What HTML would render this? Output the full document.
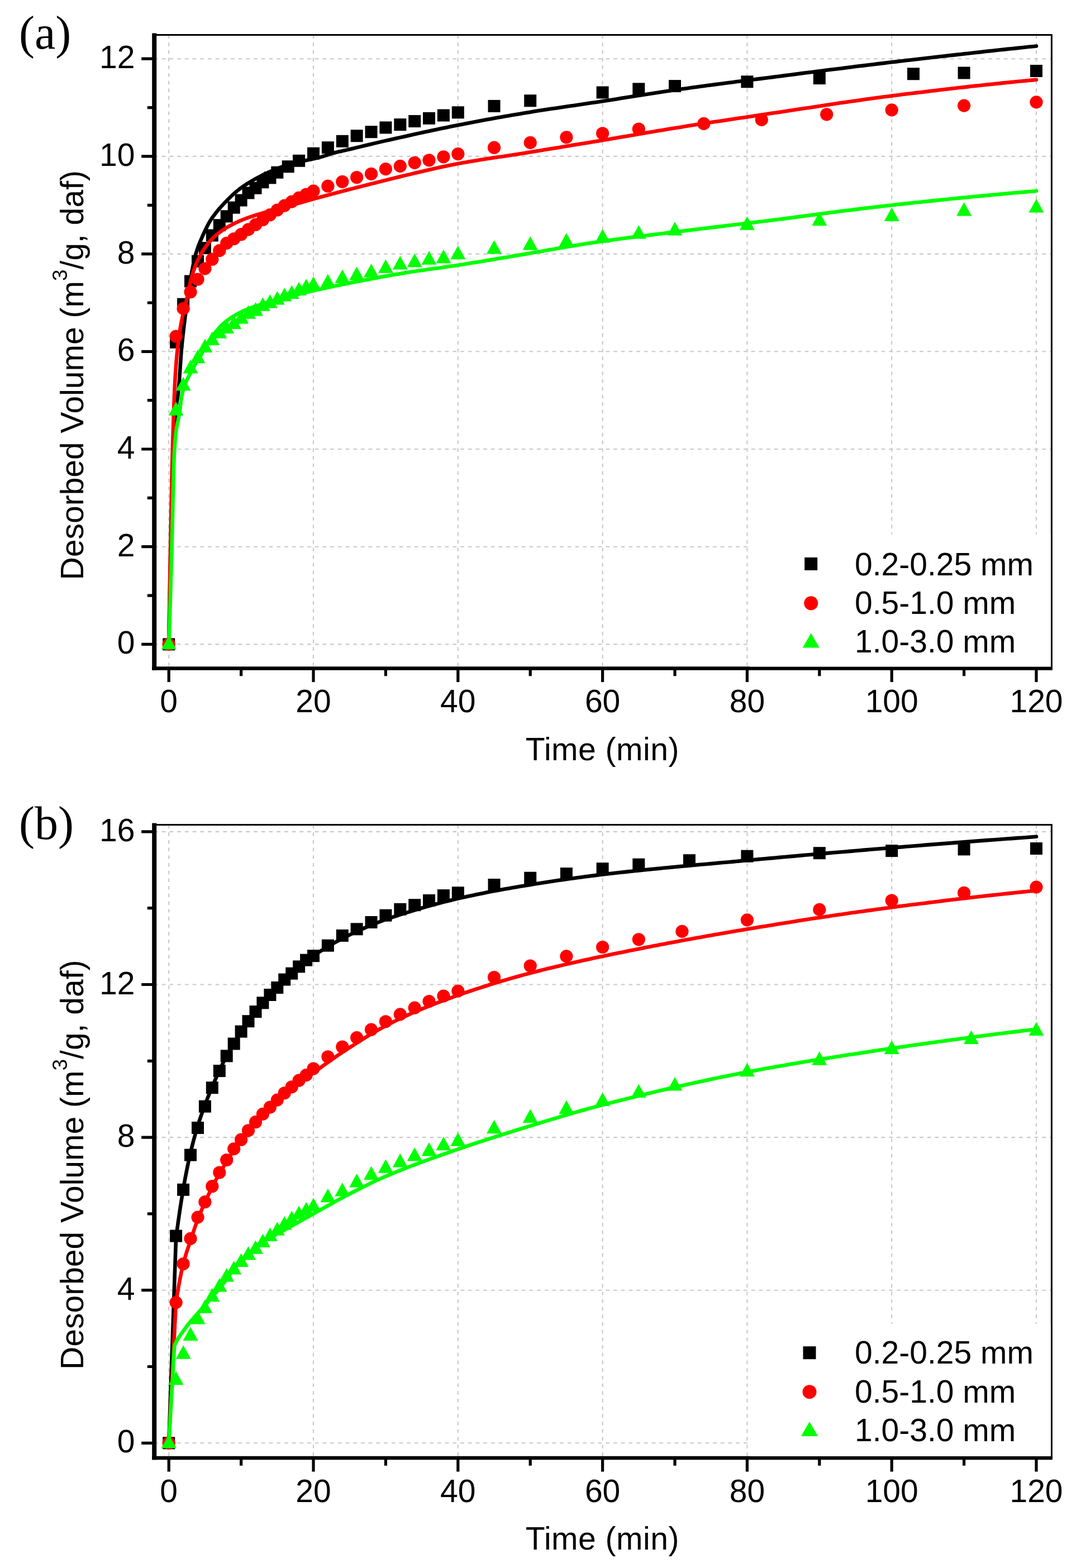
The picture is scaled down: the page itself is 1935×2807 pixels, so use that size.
<!DOCTYPE html>
<html><head><meta charset="utf-8"><title>Desorbed volume vs time</title>
<style>html,body{margin:0;padding:0;background:#fff;} body{width:1935px;height:2807px;overflow:hidden;} svg{display:block;}</style>
</head><body>
<svg width="1935" height="2807" viewBox="0 0 1935 2807">
<rect width="1935" height="2807" fill="#fff"/>
<path d="M302.2,62.5 V1196.5 M561.0,62.5 V1196.5 M819.8,62.5 V1196.5 M1078.6,62.5 V1196.5 M1337.4,62.5 V1196.5 M1596.2,62.5 V1196.5 M1855.0,62.5 V1196.5 M276.2 1153.4 H1882.4 M276.2 978.7 H1882.4 M276.2 804.0 H1882.4 M276.2 629.3 H1882.4 M276.2 454.6 H1882.4 M276.2 279.9 H1882.4 M276.2 105.2 H1882.4" stroke="#c8c8c8" stroke-width="2.1" stroke-dasharray="6.5 7.2" fill="none"/>
<path d="M302.2,1153.4 L302.8,1117.5 L303.5,1082.9 L304.1,1049.7 L304.8,1018.2 L305.4,988.6 L306.1,961.2 L306.7,935.1 L307.4,909.3 L308.0,884.4 L308.7,860.6 L309.3,838.6 L310.0,818.6 L310.6,801.1 L311.3,786.5 L311.9,774.2 L312.6,763.0 L313.2,753.0 L313.8,744.2 L314.5,736.4 L315.1,729.8 L315.8,724.3 L316.4,719.8 L317.1,715.8 L317.7,712.1 L318.4,708.1 L319.0,703.4 L319.7,697.5 L320.3,690.1 L321.0,681.5 L321.6,671.9 L322.3,662.0 L322.9,652.0 L323.6,642.5 L324.2,633.9 L324.8,626.5 L325.5,619.6 L326.1,613.0 L326.8,606.7 L327.4,600.7 L328.1,594.9 L328.7,589.2 L331.2,568.6 L333.7,549.9 L336.2,532.5 L338.7,515.5 L341.2,499.1 L343.7,484.7 L346.2,472.4 L348.7,461.5 L351.2,452.1 L353.7,444.4 L356.2,437.6 L358.7,431.5 L361.2,425.9 L363.7,420.2 L366.2,414.7 L368.7,409.5 L371.2,404.5 L373.6,399.8 L376.1,395.6 L378.6,391.7 L381.1,388.1 L383.6,384.7 L386.1,381.5 L388.6,378.4 L391.1,375.4 L393.6,372.4 L396.1,369.6 L398.6,366.9 L401.1,364.2 L403.6,361.6 L406.1,359.1 L408.6,356.5 L411.1,354.0 L413.6,351.6 L416.1,349.2 L418.6,346.9 L421.1,344.7 L423.6,342.5 L426.1,340.5 L428.5,338.6 L431.0,336.7 L433.5,334.9 L436.0,333.2 L438.5,331.5 L441.0,329.9 L443.5,328.3 L446.0,326.8 L448.5,325.3 L451.0,323.8 L453.5,322.3 L456.0,320.9 L458.5,319.5 L461.0,318.2 L463.5,316.9 L466.0,315.6 L468.5,314.3 L471.0,313.0 L473.5,311.8 L476.0,310.6 L478.5,309.5 L481.0,308.3 L483.5,307.2 L485.9,306.1 L488.4,305.0 L490.9,304.0 L493.4,303.0 L495.9,302.0 L498.4,301.0 L500.9,300.1 L503.4,299.2 L505.9,298.3 L508.4,297.4 L510.9,296.6 L513.4,295.7 L515.9,295.0 L518.4,294.2 L520.9,293.5 L523.4,292.8 L525.9,292.2 L528.4,291.6 L530.9,291.0 L533.4,290.4 L535.9,289.9 L538.4,289.3 L540.9,288.7 L543.3,288.2 L545.8,287.6 L548.3,287.0 L550.8,286.5 L553.3,285.9 L555.8,285.4 L558.3,284.9 L560.8,284.3 L563.3,283.8 L565.8,283.2 L568.3,282.6 L570.8,282.0 L573.3,281.4 L575.8,280.7 L578.3,279.9 L580.8,279.1 L583.3,278.3 L585.8,277.5 L588.3,276.7 L590.8,275.9 L593.3,275.1 L595.8,274.3 L598.2,273.7 L600.7,273.0 L603.2,272.4 L605.7,271.8 L608.2,271.2 L610.7,270.7 L613.2,270.1 L615.7,269.5 L618.2,269.0 L620.7,268.4 L623.2,267.8 L625.7,267.2 L632.2,265.7 L638.6,264.1 L645.1,262.6 L651.6,261.0 L658.0,259.5 L664.5,258.0 L671.0,256.4 L677.5,254.9 L683.9,253.4 L690.4,251.9 L696.9,250.5 L703.3,249.0 L709.8,247.6 L716.3,246.1 L722.8,244.7 L729.2,243.2 L735.7,241.8 L742.2,240.3 L748.6,238.9 L755.1,237.5 L761.6,236.1 L768.0,234.7 L774.5,233.3 L781.0,231.9 L787.5,230.6 L793.9,229.2 L800.4,227.9 L806.9,226.6 L813.3,225.3 L819.8,224.0 L826.3,222.7 L832.7,221.5 L839.2,220.2 L845.7,219.0 L852.1,217.8 L858.6,216.5 L865.1,215.3 L871.6,214.1 L878.0,213.0 L884.5,211.8 L891.0,210.6 L897.4,209.5 L903.9,208.3 L910.4,207.2 L916.8,206.1 L923.3,205.0 L929.8,203.9 L936.3,202.8 L942.7,201.7 L949.2,200.7 L955.7,199.6 L962.1,198.6 L968.6,197.6 L975.1,196.6 L981.5,195.6 L988.0,194.6 L994.5,193.7 L1001.0,192.7 L1007.4,191.8 L1013.9,190.8 L1020.4,189.8 L1026.8,188.9 L1033.3,188.0 L1039.8,187.0 L1046.2,186.0 L1052.7,185.1 L1059.2,184.1 L1065.7,183.2 L1072.1,182.2 L1078.6,181.2 L1085.1,180.2 L1091.5,179.2 L1098.0,178.2 L1104.5,177.2 L1111.0,176.1 L1117.4,175.1 L1123.9,174.1 L1130.4,173.0 L1136.8,172.0 L1143.3,171.0 L1149.8,170.0 L1156.2,168.9 L1162.7,167.9 L1169.2,166.9 L1175.6,165.9 L1182.1,164.9 L1188.6,164.0 L1195.1,163.0 L1201.5,162.0 L1208.0,161.1 L1214.5,160.2 L1220.9,159.3 L1227.4,158.4 L1233.9,157.5 L1240.3,156.6 L1246.8,155.7 L1253.3,154.8 L1259.8,154.0 L1266.2,153.1 L1272.7,152.2 L1279.2,151.4 L1285.6,150.5 L1292.1,149.7 L1298.6,148.8 L1305.0,148.0 L1311.5,147.2 L1318.0,146.3 L1324.5,145.5 L1330.9,144.7 L1337.4,143.9 L1343.9,143.0 L1350.3,142.2 L1356.8,141.4 L1363.3,140.6 L1369.8,139.7 L1376.2,138.9 L1382.7,138.1 L1389.2,137.2 L1395.6,136.4 L1402.1,135.6 L1408.6,134.7 L1415.0,133.9 L1421.5,133.1 L1428.0,132.2 L1434.5,131.4 L1440.9,130.6 L1447.4,129.8 L1453.9,128.9 L1460.3,128.1 L1466.8,127.3 L1473.3,126.5 L1479.7,125.6 L1486.2,124.8 L1492.7,124.0 L1499.2,123.2 L1505.6,122.4 L1512.1,121.6 L1518.6,120.8 L1525.0,120.0 L1531.5,119.1 L1538.0,118.3 L1544.4,117.6 L1550.9,116.8 L1557.4,116.0 L1563.8,115.2 L1570.3,114.4 L1576.8,113.6 L1583.3,112.9 L1589.7,112.1 L1596.2,111.3 L1602.7,110.6 L1609.1,109.8 L1615.6,109.0 L1622.1,108.3 L1628.5,107.5 L1635.0,106.8 L1641.5,106.0 L1648.0,105.3 L1654.4,104.5 L1660.9,103.8 L1667.4,103.0 L1673.8,102.3 L1680.3,101.5 L1686.8,100.8 L1693.2,100.1 L1699.7,99.3 L1706.2,98.6 L1712.7,97.9 L1719.1,97.2 L1725.6,96.4 L1732.1,95.7 L1738.5,95.0 L1745.0,94.3 L1751.5,93.6 L1758.0,92.9 L1764.4,92.1 L1770.9,91.4 L1777.4,90.7 L1783.8,90.0 L1790.3,89.3 L1796.8,88.6 L1803.2,87.9 L1809.7,87.3 L1816.2,86.6 L1822.7,85.9 L1829.1,85.2 L1835.6,84.5 L1842.1,83.8 L1848.5,83.2 L1855.0,82.5" stroke="#000" stroke-width="6.6" fill="none" stroke-linejoin="round" stroke-linecap="round"/>
<rect x="291.2" y="1142.4" width="22" height="22" fill="#000"/><rect x="304.1" y="601.7" width="22" height="22" fill="#000"/><rect x="317.1" y="533.6" width="22" height="22" fill="#000"/><rect x="330.0" y="492.5" width="22" height="22" fill="#000"/><rect x="343.0" y="456.7" width="22" height="22" fill="#000"/><rect x="355.9" y="433.1" width="22" height="22" fill="#000"/><rect x="368.8" y="410.4" width="22" height="22" fill="#000"/><rect x="381.8" y="392.1" width="22" height="22" fill="#000"/><rect x="394.7" y="376.3" width="22" height="22" fill="#000"/><rect x="407.7" y="360.6" width="22" height="22" fill="#000"/><rect x="420.6" y="347.5" width="22" height="22" fill="#000"/><rect x="433.5" y="334.4" width="22" height="22" fill="#000"/><rect x="446.5" y="325.7" width="22" height="22" fill="#000"/><rect x="459.4" y="315.2" width="22" height="22" fill="#000"/><rect x="472.4" y="307.3" width="22" height="22" fill="#000"/><rect x="485.3" y="297.7" width="22" height="22" fill="#000"/><rect x="504.7" y="287.2" width="22" height="22" fill="#000"/><rect x="524.1" y="276.8" width="22" height="22" fill="#000"/><rect x="550.0" y="263.7" width="22" height="22" fill="#000"/><rect x="575.9" y="253.2" width="22" height="22" fill="#000"/><rect x="601.8" y="241.8" width="22" height="22" fill="#000"/><rect x="627.6" y="232.2" width="22" height="22" fill="#000"/><rect x="653.5" y="225.2" width="22" height="22" fill="#000"/><rect x="679.4" y="217.4" width="22" height="22" fill="#000"/><rect x="705.3" y="212.1" width="22" height="22" fill="#000"/><rect x="731.2" y="206.0" width="22" height="22" fill="#000"/><rect x="757.0" y="200.8" width="22" height="22" fill="#000"/><rect x="782.9" y="195.5" width="22" height="22" fill="#000"/><rect x="808.8" y="190.3" width="22" height="22" fill="#000"/><rect x="873.5" y="178.9" width="22" height="22" fill="#000"/><rect x="938.2" y="169.3" width="22" height="22" fill="#000"/><rect x="1067.6" y="154.5" width="22" height="22" fill="#000"/><rect x="1132.3" y="148.4" width="22" height="22" fill="#000"/><rect x="1197.0" y="143.1" width="22" height="22" fill="#000"/><rect x="1326.4" y="135.3" width="22" height="22" fill="#000"/><rect x="1455.8" y="129.1" width="22" height="22" fill="#000"/><rect x="1624.0" y="121.3" width="22" height="22" fill="#000"/><rect x="1714.6" y="119.5" width="22" height="22" fill="#000"/><rect x="1844.0" y="116.0" width="22" height="22" fill="#000"/>
<path d="M302.2,1153.4 L302.8,1111.5 L303.5,1071.2 L304.1,1032.6 L304.8,995.9 L305.4,961.2 L306.1,927.8 L306.7,895.1 L307.4,863.9 L308.0,835.2 L308.7,809.7 L309.3,787.4 L310.0,766.4 L310.6,746.5 L311.3,727.9 L311.9,710.9 L312.6,695.8 L313.2,682.7 L313.8,671.8 L314.5,662.3 L315.1,653.5 L315.8,645.4 L316.4,637.9 L317.1,631.0 L317.7,624.6 L318.4,618.7 L319.0,613.1 L319.7,608.0 L320.3,603.1 L321.0,598.5 L321.6,594.1 L322.3,590.0 L322.9,586.2 L323.6,582.5 L324.2,579.0 L324.8,575.6 L325.5,572.4 L326.1,569.3 L326.8,566.2 L327.4,563.2 L328.1,560.3 L328.7,557.4 L331.2,547.7 L333.7,538.3 L336.2,527.5 L338.7,515.3 L341.2,503.4 L343.7,493.6 L346.2,485.7 L348.7,478.7 L351.2,472.3 L353.7,466.6 L356.2,461.5 L358.7,456.7 L361.2,452.3 L363.7,448.3 L366.2,444.5 L368.7,440.9 L371.2,437.5 L373.6,434.4 L376.1,431.5 L378.6,428.8 L381.1,426.2 L383.6,423.9 L386.1,421.6 L388.6,419.5 L391.1,417.5 L393.6,415.5 L396.1,413.7 L398.6,411.9 L401.1,410.3 L403.6,408.7 L406.1,407.2 L408.6,405.8 L411.1,404.4 L413.6,403.1 L416.1,401.8 L418.6,400.5 L421.1,399.3 L423.6,398.1 L426.1,396.9 L428.5,395.8 L431.0,394.8 L433.5,393.7 L436.0,392.7 L438.5,391.8 L441.0,390.8 L443.5,389.9 L446.0,389.0 L448.5,388.1 L451.0,387.3 L453.5,386.5 L456.0,385.7 L458.5,384.9 L461.0,384.1 L463.5,383.3 L466.0,382.6 L468.5,381.8 L471.0,381.1 L473.5,380.3 L476.0,379.6 L478.5,378.9 L481.0,378.2 L483.5,377.6 L485.9,376.9 L488.4,376.3 L490.9,375.6 L493.4,375.0 L495.9,374.4 L498.4,373.7 L500.9,373.1 L503.4,372.4 L505.9,371.8 L508.4,371.1 L510.9,370.5 L513.4,369.8 L515.9,369.1 L518.4,368.4 L520.9,367.7 L523.4,367.0 L525.9,366.3 L528.4,365.6 L530.9,364.9 L533.4,364.1 L535.9,363.4 L538.4,362.7 L540.9,362.0 L543.3,361.3 L545.8,360.5 L548.3,359.8 L550.8,359.1 L553.3,358.4 L555.8,357.7 L558.3,357.0 L560.8,356.3 L563.3,355.6 L565.8,354.9 L568.3,354.2 L570.8,353.6 L573.3,352.9 L575.8,352.2 L578.3,351.5 L580.8,350.9 L583.3,350.2 L585.8,349.5 L588.3,348.9 L590.8,348.2 L593.3,347.5 L595.8,346.9 L598.2,346.2 L600.7,345.6 L603.2,344.9 L605.7,344.2 L608.2,343.6 L610.7,342.9 L613.2,342.3 L615.7,341.6 L618.2,341.0 L620.7,340.3 L623.2,339.7 L625.7,339.0 L632.2,337.4 L638.6,335.7 L645.1,334.1 L651.6,332.4 L658.0,330.8 L664.5,329.1 L671.0,327.5 L677.5,325.9 L683.9,324.2 L690.4,322.6 L696.9,321.0 L703.3,319.4 L709.8,317.8 L716.3,316.2 L722.8,314.6 L729.2,313.1 L735.7,311.6 L742.2,310.0 L748.6,308.5 L755.1,307.0 L761.6,305.5 L768.0,304.0 L774.5,302.5 L781.0,301.0 L787.5,299.6 L793.9,298.2 L800.4,296.8 L806.9,295.5 L813.3,294.2 L819.8,293.0 L826.3,291.8 L832.7,290.7 L839.2,289.5 L845.7,288.4 L852.1,287.4 L858.6,286.3 L865.1,285.3 L871.6,284.3 L878.0,283.3 L884.5,282.3 L891.0,281.3 L897.4,280.4 L903.9,279.4 L910.4,278.4 L916.8,277.4 L923.3,276.4 L929.8,275.4 L936.3,274.4 L942.7,273.4 L949.2,272.3 L955.7,271.3 L962.1,270.2 L968.6,269.2 L975.1,268.1 L981.5,267.1 L988.0,266.0 L994.5,264.9 L1001.0,263.9 L1007.4,262.8 L1013.9,261.8 L1020.4,260.7 L1026.8,259.6 L1033.3,258.6 L1039.8,257.5 L1046.2,256.4 L1052.7,255.4 L1059.2,254.3 L1065.7,253.2 L1072.1,252.2 L1078.6,251.1 L1085.1,250.0 L1091.5,248.9 L1098.0,247.8 L1104.5,246.7 L1111.0,245.6 L1117.4,244.5 L1123.9,243.4 L1130.4,242.3 L1136.8,241.2 L1143.3,240.1 L1149.8,239.0 L1156.2,237.8 L1162.7,236.7 L1169.2,235.7 L1175.6,234.6 L1182.1,233.5 L1188.6,232.4 L1195.1,231.3 L1201.5,230.3 L1208.0,229.2 L1214.5,228.2 L1220.9,227.2 L1227.4,226.1 L1233.9,225.1 L1240.3,224.1 L1246.8,223.1 L1253.3,222.1 L1259.8,221.1 L1266.2,220.1 L1272.7,219.1 L1279.2,218.1 L1285.6,217.2 L1292.1,216.2 L1298.6,215.2 L1305.0,214.2 L1311.5,213.3 L1318.0,212.3 L1324.5,211.3 L1330.9,210.4 L1337.4,209.4 L1343.9,208.4 L1350.3,207.5 L1356.8,206.5 L1363.3,205.5 L1369.8,204.6 L1376.2,203.6 L1382.7,202.6 L1389.2,201.7 L1395.6,200.7 L1402.1,199.7 L1408.6,198.8 L1415.0,197.8 L1421.5,196.8 L1428.0,195.8 L1434.5,194.8 L1440.9,193.8 L1447.4,192.9 L1453.9,191.9 L1460.3,190.9 L1466.8,189.9 L1473.3,188.9 L1479.7,188.0 L1486.2,187.0 L1492.7,186.0 L1499.2,185.1 L1505.6,184.1 L1512.1,183.2 L1518.6,182.2 L1525.0,181.3 L1531.5,180.4 L1538.0,179.4 L1544.4,178.5 L1550.9,177.6 L1557.4,176.7 L1563.8,175.8 L1570.3,175.0 L1576.8,174.1 L1583.3,173.3 L1589.7,172.4 L1596.2,171.6 L1602.7,170.8 L1609.1,170.0 L1615.6,169.1 L1622.1,168.3 L1628.5,167.5 L1635.0,166.7 L1641.5,165.9 L1648.0,165.2 L1654.4,164.4 L1660.9,163.6 L1667.4,162.8 L1673.8,162.1 L1680.3,161.3 L1686.8,160.5 L1693.2,159.8 L1699.7,159.0 L1706.2,158.3 L1712.7,157.5 L1719.1,156.8 L1725.6,156.1 L1732.1,155.4 L1738.5,154.6 L1745.0,153.9 L1751.5,153.2 L1758.0,152.5 L1764.4,151.8 L1770.9,151.1 L1777.4,150.5 L1783.8,149.8 L1790.3,149.1 L1796.8,148.4 L1803.2,147.8 L1809.7,147.1 L1816.2,146.5 L1822.7,145.8 L1829.1,145.2 L1835.6,144.6 L1842.1,144.0 L1848.5,143.4 L1855.0,142.8" stroke="#ff0000" stroke-width="6.6" fill="none" stroke-linejoin="round" stroke-linecap="round"/>
<circle cx="302.2" cy="1153.4" r="11.6" fill="#ff0000"/><circle cx="315.1" cy="602.2" r="11.6" fill="#ff0000"/><circle cx="328.1" cy="552.4" r="11.6" fill="#ff0000"/><circle cx="341.0" cy="522.7" r="11.6" fill="#ff0000"/><circle cx="354.0" cy="500.0" r="11.6" fill="#ff0000"/><circle cx="366.9" cy="480.8" r="11.6" fill="#ff0000"/><circle cx="379.8" cy="464.2" r="11.6" fill="#ff0000"/><circle cx="392.8" cy="448.5" r="11.6" fill="#ff0000"/><circle cx="405.7" cy="435.4" r="11.6" fill="#ff0000"/><circle cx="418.7" cy="427.5" r="11.6" fill="#ff0000"/><circle cx="431.6" cy="419.7" r="11.6" fill="#ff0000"/><circle cx="444.5" cy="410.9" r="11.6" fill="#ff0000"/><circle cx="457.5" cy="402.2" r="11.6" fill="#ff0000"/><circle cx="470.4" cy="393.5" r="11.6" fill="#ff0000"/><circle cx="483.4" cy="384.7" r="11.6" fill="#ff0000"/><circle cx="496.3" cy="376.0" r="11.6" fill="#ff0000"/><circle cx="509.2" cy="368.1" r="11.6" fill="#ff0000"/><circle cx="522.2" cy="361.1" r="11.6" fill="#ff0000"/><circle cx="535.1" cy="354.1" r="11.6" fill="#ff0000"/><circle cx="548.1" cy="348.0" r="11.6" fill="#ff0000"/><circle cx="561.0" cy="341.9" r="11.6" fill="#ff0000"/><circle cx="586.9" cy="333.2" r="11.6" fill="#ff0000"/><circle cx="612.8" cy="325.3" r="11.6" fill="#ff0000"/><circle cx="638.6" cy="317.5" r="11.6" fill="#ff0000"/><circle cx="664.5" cy="311.3" r="11.6" fill="#ff0000"/><circle cx="690.4" cy="302.6" r="11.6" fill="#ff0000"/><circle cx="716.3" cy="297.4" r="11.6" fill="#ff0000"/><circle cx="742.2" cy="291.3" r="11.6" fill="#ff0000"/><circle cx="768.0" cy="286.9" r="11.6" fill="#ff0000"/><circle cx="793.9" cy="280.8" r="11.6" fill="#ff0000"/><circle cx="819.8" cy="275.5" r="11.6" fill="#ff0000"/><circle cx="884.5" cy="264.2" r="11.6" fill="#ff0000"/><circle cx="949.2" cy="255.4" r="11.6" fill="#ff0000"/><circle cx="1013.9" cy="245.8" r="11.6" fill="#ff0000"/><circle cx="1078.6" cy="238.8" r="11.6" fill="#ff0000"/><circle cx="1143.3" cy="231.0" r="11.6" fill="#ff0000"/><circle cx="1259.8" cy="221.4" r="11.6" fill="#ff0000"/><circle cx="1363.3" cy="214.4" r="11.6" fill="#ff0000"/><circle cx="1479.7" cy="204.8" r="11.6" fill="#ff0000"/><circle cx="1596.2" cy="196.9" r="11.6" fill="#ff0000"/><circle cx="1725.6" cy="189.1" r="11.6" fill="#ff0000"/><circle cx="1855.0" cy="182.9" r="11.6" fill="#ff0000"/>
<path d="M302.2,1153.4 L302.8,1134.7 L303.5,1115.4 L304.1,1095.4 L304.8,1074.9 L305.4,1053.9 L306.1,1032.3 L306.7,1010.3 L307.4,987.8 L308.0,964.1 L308.7,936.6 L309.3,907.2 L310.0,877.9 L310.6,850.9 L311.3,828.5 L311.9,812.7 L312.6,802.0 L313.2,792.9 L313.8,785.3 L314.5,778.9 L315.1,773.4 L315.8,768.7 L316.4,764.6 L317.1,760.9 L317.7,757.6 L318.4,754.5 L319.0,751.5 L319.7,748.3 L320.3,744.9 L321.0,741.1 L321.6,736.7 L322.3,731.7 L322.9,726.5 L323.6,721.2 L324.2,716.2 L324.8,711.7 L325.5,707.9 L326.1,705.1 L326.8,702.6 L327.4,700.2 L328.1,698.0 L328.7,695.8 L331.2,688.4 L333.7,682.2 L336.2,676.8 L338.7,671.9 L341.2,667.2 L343.7,662.3 L346.2,657.7 L348.7,653.6 L351.2,649.6 L353.7,645.7 L356.2,641.7 L358.7,637.5 L361.2,633.1 L363.7,628.5 L366.2,624.1 L368.7,619.8 L371.2,615.7 L373.6,611.6 L376.1,607.8 L378.6,604.3 L381.1,600.9 L383.6,597.6 L386.1,594.3 L388.6,591.2 L391.1,588.2 L393.6,585.4 L396.1,582.7 L398.6,580.3 L401.1,578.2 L403.6,576.2 L406.1,574.2 L408.6,572.4 L411.1,570.6 L413.6,568.9 L416.1,567.3 L418.6,565.7 L421.1,564.3 L423.6,562.8 L426.1,561.5 L428.5,560.2 L431.0,558.9 L433.5,557.7 L436.0,556.5 L438.5,555.4 L441.0,554.4 L443.5,553.3 L446.0,552.3 L448.5,551.3 L451.0,550.4 L453.5,549.5 L456.0,548.6 L458.5,547.7 L461.0,546.9 L463.5,546.1 L466.0,545.3 L468.5,544.5 L471.0,543.7 L473.5,542.9 L476.0,542.1 L478.5,541.4 L481.0,540.6 L483.5,539.9 L485.9,539.2 L488.4,538.5 L490.9,537.8 L493.4,537.1 L495.9,536.4 L498.4,535.7 L500.9,535.1 L503.4,534.4 L505.9,533.8 L508.4,533.2 L510.9,532.5 L513.4,531.9 L515.9,531.3 L518.4,530.7 L520.9,530.0 L523.4,529.4 L525.9,528.8 L528.4,528.2 L530.9,527.6 L533.4,526.9 L535.9,526.3 L538.4,525.7 L540.9,525.1 L543.3,524.5 L545.8,523.9 L548.3,523.3 L550.8,522.7 L553.3,522.2 L555.8,521.6 L558.3,521.0 L560.8,520.4 L563.3,519.9 L565.8,519.3 L568.3,518.8 L570.8,518.2 L573.3,517.7 L575.8,517.1 L578.3,516.6 L580.8,516.0 L583.3,515.5 L585.8,515.0 L588.3,514.4 L590.8,513.9 L593.3,513.4 L595.8,512.8 L598.2,512.3 L600.7,511.8 L603.2,511.3 L605.7,510.8 L608.2,510.2 L610.7,509.7 L613.2,509.2 L615.7,508.7 L618.2,508.2 L620.7,507.7 L623.2,507.2 L625.7,506.7 L632.2,505.4 L638.6,504.1 L645.1,502.9 L651.6,501.6 L658.0,500.4 L664.5,499.2 L671.0,498.0 L677.5,496.8 L683.9,495.6 L690.4,494.4 L696.9,493.3 L703.3,492.1 L709.8,491.0 L716.3,489.9 L722.8,488.8 L729.2,487.8 L735.7,486.8 L742.2,485.8 L748.6,484.8 L755.1,483.9 L761.6,483.0 L768.0,482.1 L774.5,481.2 L781.0,480.3 L787.5,479.4 L793.9,478.5 L800.4,477.6 L806.9,476.6 L813.3,475.7 L819.8,474.7 L826.3,473.7 L832.7,472.7 L839.2,471.6 L845.7,470.6 L852.1,469.5 L858.6,468.5 L865.1,467.4 L871.6,466.3 L878.0,465.2 L884.5,464.2 L891.0,463.1 L897.4,462.0 L903.9,460.9 L910.4,459.9 L916.8,458.8 L923.3,457.7 L929.8,456.6 L936.3,455.5 L942.7,454.4 L949.2,453.2 L955.7,452.1 L962.1,451.0 L968.6,449.9 L975.1,448.7 L981.5,447.6 L988.0,446.5 L994.5,445.4 L1001.0,444.3 L1007.4,443.2 L1013.9,442.1 L1020.4,441.0 L1026.8,439.9 L1033.3,438.9 L1039.8,437.8 L1046.2,436.8 L1052.7,435.8 L1059.2,434.8 L1065.7,433.8 L1072.1,432.8 L1078.6,431.9 L1085.1,431.0 L1091.5,430.1 L1098.0,429.2 L1104.5,428.3 L1111.0,427.4 L1117.4,426.6 L1123.9,425.7 L1130.4,424.9 L1136.8,424.1 L1143.3,423.3 L1149.8,422.5 L1156.2,421.7 L1162.7,420.9 L1169.2,420.1 L1175.6,419.3 L1182.1,418.5 L1188.6,417.7 L1195.1,416.9 L1201.5,416.1 L1208.0,415.3 L1214.5,414.5 L1220.9,413.7 L1227.4,412.9 L1233.9,412.1 L1240.3,411.3 L1246.8,410.5 L1253.3,409.7 L1259.8,409.0 L1266.2,408.2 L1272.7,407.4 L1279.2,406.6 L1285.6,405.9 L1292.1,405.1 L1298.6,404.3 L1305.0,403.5 L1311.5,402.8 L1318.0,402.0 L1324.5,401.2 L1330.9,400.4 L1337.4,399.6 L1343.9,398.8 L1350.3,398.1 L1356.8,397.3 L1363.3,396.5 L1369.8,395.7 L1376.2,394.9 L1382.7,394.0 L1389.2,393.2 L1395.6,392.4 L1402.1,391.6 L1408.6,390.7 L1415.0,389.9 L1421.5,389.1 L1428.0,388.2 L1434.5,387.4 L1440.9,386.5 L1447.4,385.7 L1453.9,384.8 L1460.3,384.0 L1466.8,383.1 L1473.3,382.3 L1479.7,381.5 L1486.2,380.6 L1492.7,379.8 L1499.2,379.0 L1505.6,378.1 L1512.1,377.3 L1518.6,376.5 L1525.0,375.7 L1531.5,374.9 L1538.0,374.1 L1544.4,373.3 L1550.9,372.5 L1557.4,371.7 L1563.8,370.9 L1570.3,370.2 L1576.8,369.4 L1583.3,368.7 L1589.7,368.0 L1596.2,367.3 L1602.7,366.5 L1609.1,365.8 L1615.6,365.1 L1622.1,364.4 L1628.5,363.7 L1635.0,363.0 L1641.5,362.3 L1648.0,361.7 L1654.4,361.0 L1660.9,360.3 L1667.4,359.6 L1673.8,358.9 L1680.3,358.3 L1686.8,357.6 L1693.2,357.0 L1699.7,356.3 L1706.2,355.7 L1712.7,355.0 L1719.1,354.4 L1725.6,353.7 L1732.1,353.1 L1738.5,352.5 L1745.0,351.8 L1751.5,351.2 L1758.0,350.6 L1764.4,350.0 L1770.9,349.4 L1777.4,348.8 L1783.8,348.2 L1790.3,347.6 L1796.8,347.0 L1803.2,346.4 L1809.7,345.8 L1816.2,345.3 L1822.7,344.7 L1829.1,344.1 L1835.6,343.6 L1842.1,343.0 L1848.5,342.5 L1855.0,341.9" stroke="#00ff00" stroke-width="6.6" fill="none" stroke-linejoin="round" stroke-linecap="round"/>
<polygon points="288.7,1162.6 315.7,1162.6 302.2,1138.1" fill="#00ff00"/><polygon points="301.6,743.7 328.6,743.7 315.1,719.2" fill="#00ff00"/><polygon points="314.6,699.2 341.6,699.2 328.1,674.7" fill="#00ff00"/><polygon points="327.5,668.6 354.5,668.6 341.0,644.1" fill="#00ff00"/><polygon points="340.5,650.3 367.5,650.3 354.0,625.8" fill="#00ff00"/><polygon points="353.4,631.1 380.4,631.1 366.9,606.6" fill="#00ff00"/><polygon points="366.3,618.0 393.3,618.0 379.8,593.5" fill="#00ff00"/><polygon points="379.3,605.7 406.3,605.7 392.8,581.2" fill="#00ff00"/><polygon points="392.2,597.0 419.2,597.0 405.7,572.5" fill="#00ff00"/><polygon points="405.2,589.1 432.2,589.1 418.7,564.6" fill="#00ff00"/><polygon points="418.1,579.5 445.1,579.5 431.6,555.0" fill="#00ff00"/><polygon points="431.0,570.8 458.0,570.8 444.5,546.3" fill="#00ff00"/><polygon points="444.0,565.6 471.0,565.6 457.5,541.1" fill="#00ff00"/><polygon points="456.9,556.8 483.9,556.8 470.4,532.3" fill="#00ff00"/><polygon points="469.9,551.6 496.9,551.6 483.4,527.1" fill="#00ff00"/><polygon points="482.8,545.5 509.8,545.5 496.3,521.0" fill="#00ff00"/><polygon points="495.7,539.4 522.7,539.4 509.2,514.9" fill="#00ff00"/><polygon points="508.7,535.0 535.7,535.0 522.2,510.5" fill="#00ff00"/><polygon points="521.6,528.9 548.6,528.9 535.1,504.4" fill="#00ff00"/><polygon points="534.6,523.6 561.6,523.6 548.1,499.1" fill="#00ff00"/><polygon points="547.5,519.3 574.5,519.3 561.0,494.8" fill="#00ff00"/><polygon points="573.4,514.9 600.4,514.9 586.9,490.4" fill="#00ff00"/><polygon points="599.3,507.0 626.3,507.0 612.8,482.5" fill="#00ff00"/><polygon points="625.1,501.8 652.1,501.8 638.6,477.3" fill="#00ff00"/><polygon points="651.0,496.5 678.0,496.5 664.5,472.0" fill="#00ff00"/><polygon points="676.9,488.7 703.9,488.7 690.4,464.2" fill="#00ff00"/><polygon points="702.8,482.6 729.8,482.6 716.3,458.1" fill="#00ff00"/><polygon points="728.7,478.2 755.7,478.2 742.2,453.7" fill="#00ff00"/><polygon points="754.5,473.8 781.5,473.8 768.0,449.3" fill="#00ff00"/><polygon points="780.4,471.2 807.4,471.2 793.9,446.7" fill="#00ff00"/><polygon points="806.3,464.2 833.3,464.2 819.8,439.7" fill="#00ff00"/><polygon points="871.0,454.6 898.0,454.6 884.5,430.1" fill="#00ff00"/><polygon points="935.7,447.6 962.7,447.6 949.2,423.1" fill="#00ff00"/><polygon points="1000.4,441.5 1027.4,441.5 1013.9,417.0" fill="#00ff00"/><polygon points="1065.1,434.5 1092.1,434.5 1078.6,410.0" fill="#00ff00"/><polygon points="1129.8,427.5 1156.8,427.5 1143.3,403.0" fill="#00ff00"/><polygon points="1194.5,421.4 1221.5,421.4 1208.0,396.9" fill="#00ff00"/><polygon points="1323.9,411.8 1350.9,411.8 1337.4,387.3" fill="#00ff00"/><polygon points="1453.3,404.0 1480.3,404.0 1466.8,379.5" fill="#00ff00"/><polygon points="1582.7,396.1 1609.7,396.1 1596.2,371.6" fill="#00ff00"/><polygon points="1712.1,386.5 1739.1,386.5 1725.6,362.0" fill="#00ff00"/><polygon points="1841.5,380.4 1868.5,380.4 1855.0,355.9" fill="#00ff00"/>
<path d="M276.2 62.5 H1882.4 V1196.5" stroke="#000" stroke-width="3" fill="none"/>
<path d="M276.2 59.5 V1199.8" stroke="#000" stroke-width="8" fill="none"/>
<path d="M272.2 1196.5 H1883.9" stroke="#000" stroke-width="6.3" fill="none"/>
<path d="M302.2,1196.5 V1221.0 M561.0,1196.5 V1221.0 M819.8,1196.5 V1221.0 M1078.6,1196.5 V1221.0 M1337.4,1196.5 V1221.0 M1596.2,1196.5 V1221.0 M1855.0,1196.5 V1221.0 M431.6,1196.5 V1210.2 M690.4,1196.5 V1210.2 M949.2,1196.5 V1210.2 M1208.0,1196.5 V1210.2 M1466.8,1196.5 V1210.2 M1725.6,1196.5 V1210.2 M276.2 1153.4 H253.2 M276.2 978.7 H253.2 M276.2 804.0 H253.2 M276.2 629.3 H253.2 M276.2 454.6 H253.2 M276.2 279.9 H253.2 M276.2 105.2 H253.2 M276.2 1066.1 H263.8 M276.2 891.4 H263.8 M276.2 716.7 H263.8 M276.2 542.0 H263.8 M276.2 367.3 H263.8 M276.2 192.6 H263.8" stroke="#000" stroke-width="5.2" fill="none"/>
<g font-family="'Liberation Sans', Arial, sans-serif" font-size="57" fill="#000"><text x="241.5" y="1170.4" text-anchor="end">0</text><text x="241.5" y="995.7" text-anchor="end">2</text><text x="241.5" y="821.0" text-anchor="end">4</text><text x="241.5" y="646.3" text-anchor="end">6</text><text x="241.5" y="471.6" text-anchor="end">8</text><text x="241.5" y="296.9" text-anchor="end">10</text><text x="241.5" y="122.2" text-anchor="end">12</text><text x="302.2" y="1275.3" text-anchor="middle">0</text><text x="561.0" y="1275.3" text-anchor="middle">20</text><text x="819.8" y="1275.3" text-anchor="middle">40</text><text x="1078.6" y="1275.3" text-anchor="middle">60</text><text x="1337.4" y="1275.3" text-anchor="middle">80</text><text x="1596.2" y="1275.3" text-anchor="middle">100</text><text x="1855.0" y="1275.3" text-anchor="middle">120</text></g>
<text font-family="'Liberation Sans', Arial, sans-serif" font-size="57" x="1078.3" y="1360.5" text-anchor="middle" letter-spacing="0.5">Time (min)</text>
<text font-family="'Liberation Sans', Arial, sans-serif" font-size="57" transform="translate(149.3 671.7) rotate(-90)" text-anchor="middle">Desorbed Volume (m<tspan dy="-29" font-size="37">3</tspan><tspan dy="29">/g, daf)</tspan></text>
<text font-family="'Liberation Serif', 'Times New Roman', serif" font-size="84" x="34" y="87.0">(a)</text>
<rect x="1342" y="956.4" width="538.9" height="237.1" fill="#fff"/>
<rect x="1440.2" y="997.9" width="23" height="23" fill="#000"/>
<circle cx="1451.7" cy="1079.8" r="12.5" fill="#ff0000"/>
<polygon points="1436.7,1159.4 1466.7,1159.4 1451.7,1133.4" fill="#00ff00"/>
<g font-family="'Liberation Sans', Arial, sans-serif" font-size="57"><text x="1530" y="1029.5">0.2-0.25 mm</text><text x="1530" y="1098.8">0.5-1.0 mm</text><text x="1530" y="1168.3">1.0-3.0 mm</text></g>
<path d="M302.2,1476.5 V2610.0 M561.0,1476.5 V2610.0 M819.8,1476.5 V2610.0 M1078.6,1476.5 V2610.0 M1337.4,1476.5 V2610.0 M1596.2,1476.5 V2610.0 M1855.0,1476.5 V2610.0 M276.2 2583.3 H1882.4 M276.2 2309.7 H1882.4 M276.2 2036.1 H1882.4 M276.2 1762.5 H1882.4 M276.2 1488.9 H1882.4" stroke="#c8c8c8" stroke-width="2.1" stroke-dasharray="6.5 7.2" fill="none"/>
<path d="M302.2,2583.3 L315.1,2215.3 L315.5,2212.9 L315.8,2210.4 L316.1,2208.0 L316.4,2205.6 L316.8,2203.2 L317.1,2200.9 L317.4,2198.5 L317.7,2196.1 L318.1,2193.8 L318.4,2191.5 L318.7,2189.2 L319.0,2186.8 L319.3,2184.6 L319.7,2182.3 L320.0,2180.0 L320.3,2177.8 L320.6,2175.6 L321.0,2173.3 L321.3,2171.1 L321.6,2168.9 L321.9,2166.8 L322.3,2164.6 L322.6,2162.5 L322.9,2160.3 L323.2,2158.2 L323.6,2156.1 L323.9,2154.0 L324.2,2152.0 L324.5,2149.9 L324.8,2147.9 L325.2,2145.9 L325.5,2143.9 L325.8,2141.9 L326.1,2139.9 L326.5,2138.0 L326.8,2136.0 L327.1,2134.1 L327.4,2132.2 L327.8,2130.3 L328.1,2128.4 L328.7,2124.7 L331.2,2110.9 L333.7,2097.8 L336.2,2085.3 L338.7,2073.6 L341.2,2062.7 L343.7,2052.4 L346.2,2042.7 L348.7,2033.5 L351.2,2024.8 L353.7,2016.5 L356.2,2008.5 L358.7,2001.0 L361.2,1993.7 L363.7,1986.7 L366.2,1979.9 L368.7,1973.3 L371.2,1966.9 L373.6,1960.7 L376.1,1954.6 L378.6,1948.7 L381.1,1942.7 L383.6,1936.9 L386.1,1931.1 L388.6,1925.5 L391.1,1920.0 L393.6,1914.6 L396.1,1909.4 L398.6,1904.3 L401.1,1899.3 L403.6,1894.4 L406.1,1889.7 L408.6,1885.1 L411.1,1880.7 L413.6,1876.2 L416.1,1871.9 L418.6,1867.6 L421.1,1863.5 L423.6,1859.3 L426.1,1855.3 L428.5,1851.4 L431.0,1847.5 L433.5,1843.7 L436.0,1839.9 L438.5,1836.2 L441.0,1832.6 L443.5,1829.0 L446.0,1825.5 L448.5,1822.1 L451.0,1818.8 L453.5,1815.5 L456.0,1812.2 L458.5,1809.1 L461.0,1806.0 L463.5,1803.0 L466.0,1800.1 L468.5,1797.2 L471.0,1794.4 L473.5,1791.6 L476.0,1788.9 L478.5,1786.2 L481.0,1783.5 L483.5,1780.9 L485.9,1778.3 L488.4,1775.7 L490.9,1773.2 L493.4,1770.8 L495.9,1768.3 L498.4,1765.9 L500.9,1763.6 L503.4,1761.2 L505.9,1758.8 L508.4,1756.5 L510.9,1754.1 L513.4,1751.7 L515.9,1749.3 L518.4,1746.9 L520.9,1744.6 L523.4,1742.3 L525.9,1739.9 L528.4,1737.7 L530.9,1735.4 L533.4,1733.2 L535.9,1731.1 L538.4,1729.0 L540.9,1726.9 L543.3,1724.8 L545.8,1722.7 L548.3,1720.7 L550.8,1718.7 L553.3,1716.8 L555.8,1714.9 L558.3,1713.1 L560.8,1711.3 L563.3,1709.6 L565.8,1707.9 L568.3,1706.3 L570.8,1704.7 L573.3,1703.0 L575.8,1701.4 L578.3,1699.9 L580.8,1698.3 L583.3,1696.8 L585.8,1695.3 L588.3,1693.8 L590.8,1692.3 L593.3,1690.9 L595.8,1689.4 L598.2,1688.0 L600.7,1686.6 L603.2,1685.2 L605.7,1683.9 L608.2,1682.5 L610.7,1681.2 L613.2,1679.9 L615.7,1678.6 L618.2,1677.3 L620.7,1676.1 L623.2,1674.8 L625.7,1673.6 L632.2,1670.5 L638.6,1667.4 L645.1,1664.4 L651.6,1661.6 L658.0,1658.8 L664.5,1656.1 L671.0,1653.5 L677.5,1651.0 L683.9,1648.5 L690.4,1646.2 L696.9,1644.0 L703.3,1641.7 L709.8,1639.6 L716.3,1637.4 L722.8,1635.3 L729.2,1633.3 L735.7,1631.3 L742.2,1629.3 L748.6,1627.4 L755.1,1625.5 L761.6,1623.6 L768.0,1621.8 L774.5,1620.0 L781.0,1618.3 L787.5,1616.6 L793.9,1614.9 L800.4,1613.3 L806.9,1611.7 L813.3,1610.1 L819.8,1608.6 L826.3,1607.1 L832.7,1605.7 L839.2,1604.3 L845.7,1602.9 L852.1,1601.5 L858.6,1600.2 L865.1,1598.9 L871.6,1597.6 L878.0,1596.3 L884.5,1595.1 L891.0,1593.9 L897.4,1592.7 L903.9,1591.6 L910.4,1590.4 L916.8,1589.3 L923.3,1588.2 L929.8,1587.1 L936.3,1586.0 L942.7,1584.9 L949.2,1583.9 L955.7,1582.8 L962.1,1581.8 L968.6,1580.8 L975.1,1579.7 L981.5,1578.8 L988.0,1577.8 L994.5,1576.8 L1001.0,1575.8 L1007.4,1574.9 L1013.9,1574.0 L1020.4,1573.1 L1026.8,1572.2 L1033.3,1571.3 L1039.8,1570.4 L1046.2,1569.5 L1052.7,1568.7 L1059.2,1567.9 L1065.7,1567.1 L1072.1,1566.3 L1078.6,1565.5 L1085.1,1564.7 L1091.5,1564.0 L1098.0,1563.3 L1104.5,1562.5 L1111.0,1561.8 L1117.4,1561.1 L1123.9,1560.4 L1130.4,1559.7 L1136.8,1559.0 L1143.3,1558.4 L1149.8,1557.7 L1156.2,1557.0 L1162.7,1556.4 L1169.2,1555.7 L1175.6,1555.1 L1182.1,1554.5 L1188.6,1553.8 L1195.1,1553.2 L1201.5,1552.6 L1208.0,1552.0 L1214.5,1551.4 L1220.9,1550.8 L1227.4,1550.2 L1233.9,1549.6 L1240.3,1549.0 L1246.8,1548.4 L1253.3,1547.8 L1259.8,1547.2 L1266.2,1546.7 L1272.7,1546.1 L1279.2,1545.5 L1285.6,1544.9 L1292.1,1544.3 L1298.6,1543.7 L1305.0,1543.2 L1311.5,1542.6 L1318.0,1542.0 L1324.5,1541.4 L1330.9,1540.8 L1337.4,1540.2 L1343.9,1539.6 L1350.3,1539.0 L1356.8,1538.4 L1363.3,1537.8 L1369.8,1537.2 L1376.2,1536.6 L1382.7,1536.1 L1389.2,1535.5 L1395.6,1534.9 L1402.1,1534.3 L1408.6,1533.7 L1415.0,1533.1 L1421.5,1532.6 L1428.0,1532.0 L1434.5,1531.4 L1440.9,1530.8 L1447.4,1530.3 L1453.9,1529.7 L1460.3,1529.1 L1466.8,1528.6 L1473.3,1528.0 L1479.7,1527.4 L1486.2,1526.9 L1492.7,1526.3 L1499.2,1525.8 L1505.6,1525.2 L1512.1,1524.7 L1518.6,1524.1 L1525.0,1523.6 L1531.5,1523.0 L1538.0,1522.5 L1544.4,1521.9 L1550.9,1521.4 L1557.4,1520.8 L1563.8,1520.3 L1570.3,1519.8 L1576.8,1519.2 L1583.3,1518.7 L1589.7,1518.2 L1596.2,1517.6 L1602.7,1517.1 L1609.1,1516.6 L1615.6,1516.1 L1622.1,1515.5 L1628.5,1515.0 L1635.0,1514.5 L1641.5,1514.0 L1648.0,1513.5 L1654.4,1512.9 L1660.9,1512.4 L1667.4,1511.9 L1673.8,1511.4 L1680.3,1510.9 L1686.8,1510.4 L1693.2,1509.9 L1699.7,1509.4 L1706.2,1508.9 L1712.7,1508.4 L1719.1,1507.9 L1725.6,1507.4 L1732.1,1506.9 L1738.5,1506.4 L1745.0,1505.9 L1751.5,1505.4 L1758.0,1504.9 L1764.4,1504.4 L1770.9,1503.9 L1777.4,1503.5 L1783.8,1503.0 L1790.3,1502.5 L1796.8,1502.0 L1803.2,1501.5 L1809.7,1501.1 L1816.2,1500.6 L1822.7,1500.1 L1829.1,1499.7 L1835.6,1499.2 L1842.1,1498.7 L1848.5,1498.3 L1855.0,1497.8" stroke="#000" stroke-width="6.6" fill="none" stroke-linejoin="round" stroke-linecap="round"/>
<rect x="291.2" y="2572.3" width="22" height="22" fill="#000"/><rect x="304.1" y="2201.6" width="22" height="22" fill="#000"/><rect x="317.1" y="2118.8" width="22" height="22" fill="#000"/><rect x="330.0" y="2056.6" width="22" height="22" fill="#000"/><rect x="343.0" y="2008.0" width="22" height="22" fill="#000"/><rect x="355.9" y="1969.7" width="22" height="22" fill="#000"/><rect x="368.8" y="1936.2" width="22" height="22" fill="#000"/><rect x="381.8" y="1906.1" width="22" height="22" fill="#000"/><rect x="394.7" y="1879.4" width="22" height="22" fill="#000"/><rect x="407.7" y="1857.5" width="22" height="22" fill="#000"/><rect x="420.6" y="1835.6" width="22" height="22" fill="#000"/><rect x="433.5" y="1817.2" width="22" height="22" fill="#000"/><rect x="446.5" y="1800.1" width="22" height="22" fill="#000"/><rect x="459.4" y="1784.3" width="22" height="22" fill="#000"/><rect x="472.4" y="1770.0" width="22" height="22" fill="#000"/><rect x="485.3" y="1757.0" width="22" height="22" fill="#000"/><rect x="498.2" y="1742.6" width="22" height="22" fill="#000"/><rect x="511.2" y="1731.7" width="22" height="22" fill="#000"/><rect x="524.1" y="1719.4" width="22" height="22" fill="#000"/><rect x="537.1" y="1707.7" width="22" height="22" fill="#000"/><rect x="550.0" y="1700.2" width="22" height="22" fill="#000"/><rect x="575.9" y="1681.7" width="22" height="22" fill="#000"/><rect x="601.8" y="1663.9" width="22" height="22" fill="#000"/><rect x="627.6" y="1652.3" width="22" height="22" fill="#000"/><rect x="653.5" y="1640.0" width="22" height="22" fill="#000"/><rect x="679.4" y="1627.7" width="22" height="22" fill="#000"/><rect x="705.3" y="1616.8" width="22" height="22" fill="#000"/><rect x="731.2" y="1609.2" width="22" height="22" fill="#000"/><rect x="757.0" y="1601.0" width="22" height="22" fill="#000"/><rect x="782.9" y="1592.1" width="22" height="22" fill="#000"/><rect x="808.8" y="1587.3" width="22" height="22" fill="#000"/><rect x="873.5" y="1573.0" width="22" height="22" fill="#000"/><rect x="938.2" y="1560.7" width="22" height="22" fill="#000"/><rect x="1002.9" y="1553.1" width="22" height="22" fill="#000"/><rect x="1067.6" y="1544.2" width="22" height="22" fill="#000"/><rect x="1132.3" y="1536.7" width="22" height="22" fill="#000"/><rect x="1222.9" y="1529.2" width="22" height="22" fill="#000"/><rect x="1326.4" y="1521.7" width="22" height="22" fill="#000"/><rect x="1455.8" y="1516.2" width="22" height="22" fill="#000"/><rect x="1585.2" y="1512.1" width="22" height="22" fill="#000"/><rect x="1714.6" y="1509.4" width="22" height="22" fill="#000"/><rect x="1844.0" y="1508.0" width="22" height="22" fill="#000"/>
<path d="M302.2,2583.3 L315.1,2330.2 L315.5,2328.2 L315.8,2326.2 L316.1,2324.2 L316.4,2322.3 L316.8,2320.3 L317.1,2318.3 L317.4,2316.4 L317.7,2314.5 L318.1,2312.6 L318.4,2310.7 L318.7,2308.8 L319.0,2307.0 L319.3,2305.1 L319.7,2303.3 L320.0,2301.5 L320.3,2299.7 L320.6,2297.9 L321.0,2296.2 L321.3,2294.4 L321.6,2292.7 L321.9,2291.0 L322.3,2289.3 L322.6,2287.7 L322.9,2286.0 L323.2,2284.4 L323.6,2282.8 L323.9,2281.2 L324.2,2279.6 L324.5,2278.1 L324.8,2276.6 L325.2,2275.1 L325.5,2273.6 L325.8,2272.1 L326.1,2270.7 L326.5,2269.3 L326.8,2267.9 L327.1,2266.5 L327.4,2265.1 L327.8,2263.8 L328.1,2262.5 L328.7,2260.0 L331.2,2250.9 L333.7,2242.7 L336.2,2235.1 L338.7,2227.7 L341.2,2220.2 L343.7,2212.6 L346.2,2205.1 L348.7,2197.7 L351.2,2190.7 L353.7,2183.9 L356.2,2177.5 L358.7,2171.3 L361.2,2165.3 L363.7,2159.6 L366.2,2154.0 L368.7,2148.6 L371.2,2143.2 L373.6,2137.9 L376.1,2132.8 L378.6,2127.7 L381.1,2122.7 L383.6,2117.9 L386.1,2113.1 L388.6,2108.5 L391.1,2104.0 L393.6,2099.6 L396.1,2095.3 L398.6,2091.1 L401.1,2086.9 L403.6,2082.8 L406.1,2078.7 L408.6,2074.8 L411.1,2070.8 L413.6,2067.0 L416.1,2063.2 L418.6,2059.5 L421.1,2055.9 L423.6,2052.4 L426.1,2048.9 L428.5,2045.6 L431.0,2042.3 L433.5,2039.1 L436.0,2035.9 L438.5,2032.8 L441.0,2029.7 L443.5,2026.7 L446.0,2023.7 L448.5,2020.7 L451.0,2017.8 L453.5,2014.9 L456.0,2012.1 L458.5,2009.3 L461.0,2006.5 L463.5,2003.8 L466.0,2001.1 L468.5,1998.4 L471.0,1995.8 L473.5,1993.2 L476.0,1990.7 L478.5,1988.2 L481.0,1985.7 L483.5,1983.2 L485.9,1980.8 L488.4,1978.4 L490.9,1976.1 L493.4,1973.7 L495.9,1971.5 L498.4,1969.2 L500.9,1967.0 L503.4,1964.8 L505.9,1962.7 L508.4,1960.5 L510.9,1958.5 L513.4,1956.4 L515.9,1954.4 L518.4,1952.4 L520.9,1950.4 L523.4,1948.5 L525.9,1946.5 L528.4,1944.6 L530.9,1942.7 L533.4,1940.9 L535.9,1939.0 L538.4,1937.1 L540.9,1935.3 L543.3,1933.4 L545.8,1931.6 L548.3,1929.8 L550.8,1928.0 L553.3,1926.1 L555.8,1924.3 L558.3,1922.5 L560.8,1920.6 L563.3,1918.8 L565.8,1917.0 L568.3,1915.1 L570.8,1913.3 L573.3,1911.5 L575.8,1909.7 L578.3,1907.9 L580.8,1906.1 L583.3,1904.3 L585.8,1902.5 L588.3,1900.8 L590.8,1899.0 L593.3,1897.3 L595.8,1895.5 L598.2,1893.8 L600.7,1892.1 L603.2,1890.3 L605.7,1888.6 L608.2,1886.9 L610.7,1885.2 L613.2,1883.6 L615.7,1881.9 L618.2,1880.3 L620.7,1878.6 L623.2,1877.0 L625.7,1875.4 L632.2,1871.2 L638.6,1867.0 L645.1,1862.9 L651.6,1858.9 L658.0,1854.9 L664.5,1851.0 L671.0,1847.2 L677.5,1843.4 L683.9,1839.8 L690.4,1836.4 L696.9,1833.0 L703.3,1829.8 L709.8,1826.6 L716.3,1823.5 L722.8,1820.5 L729.2,1817.5 L735.7,1814.6 L742.2,1811.8 L748.6,1809.0 L755.1,1806.3 L761.6,1803.6 L768.0,1801.0 L774.5,1798.4 L781.0,1795.9 L787.5,1793.4 L793.9,1791.0 L800.4,1788.6 L806.9,1786.3 L813.3,1783.9 L819.8,1781.7 L826.3,1779.4 L832.7,1777.2 L839.2,1775.0 L845.7,1772.8 L852.1,1770.7 L858.6,1768.6 L865.1,1766.5 L871.6,1764.5 L878.0,1762.4 L884.5,1760.4 L891.0,1758.5 L897.4,1756.5 L903.9,1754.6 L910.4,1752.7 L916.8,1750.8 L923.3,1749.0 L929.8,1747.2 L936.3,1745.4 L942.7,1743.7 L949.2,1742.0 L955.7,1740.3 L962.1,1738.7 L968.6,1737.0 L975.1,1735.4 L981.5,1733.8 L988.0,1732.3 L994.5,1730.7 L1001.0,1729.2 L1007.4,1727.6 L1013.9,1726.1 L1020.4,1724.6 L1026.8,1723.2 L1033.3,1721.7 L1039.8,1720.3 L1046.2,1718.8 L1052.7,1717.4 L1059.2,1716.0 L1065.7,1714.6 L1072.1,1713.2 L1078.6,1711.9 L1085.1,1710.5 L1091.5,1709.2 L1098.0,1707.8 L1104.5,1706.5 L1111.0,1705.2 L1117.4,1703.9 L1123.9,1702.6 L1130.4,1701.3 L1136.8,1700.0 L1143.3,1698.7 L1149.8,1697.4 L1156.2,1696.1 L1162.7,1694.9 L1169.2,1693.6 L1175.6,1692.4 L1182.1,1691.1 L1188.6,1689.9 L1195.1,1688.6 L1201.5,1687.4 L1208.0,1686.2 L1214.5,1685.0 L1220.9,1683.8 L1227.4,1682.6 L1233.9,1681.4 L1240.3,1680.2 L1246.8,1679.1 L1253.3,1677.9 L1259.8,1676.7 L1266.2,1675.6 L1272.7,1674.4 L1279.2,1673.3 L1285.6,1672.2 L1292.1,1671.0 L1298.6,1669.9 L1305.0,1668.8 L1311.5,1667.7 L1318.0,1666.6 L1324.5,1665.5 L1330.9,1664.4 L1337.4,1663.3 L1343.9,1662.2 L1350.3,1661.2 L1356.8,1660.1 L1363.3,1659.0 L1369.8,1658.0 L1376.2,1656.9 L1382.7,1655.9 L1389.2,1654.8 L1395.6,1653.8 L1402.1,1652.7 L1408.6,1651.7 L1415.0,1650.7 L1421.5,1649.7 L1428.0,1648.6 L1434.5,1647.6 L1440.9,1646.6 L1447.4,1645.6 L1453.9,1644.6 L1460.3,1643.6 L1466.8,1642.7 L1473.3,1641.7 L1479.7,1640.7 L1486.2,1639.8 L1492.7,1638.8 L1499.2,1637.8 L1505.6,1636.9 L1512.1,1636.0 L1518.6,1635.0 L1525.0,1634.1 L1531.5,1633.2 L1538.0,1632.3 L1544.4,1631.4 L1550.9,1630.4 L1557.4,1629.6 L1563.8,1628.7 L1570.3,1627.8 L1576.8,1626.9 L1583.3,1626.0 L1589.7,1625.2 L1596.2,1624.3 L1602.7,1623.5 L1609.1,1622.6 L1615.6,1621.8 L1622.1,1621.0 L1628.5,1620.1 L1635.0,1619.3 L1641.5,1618.5 L1648.0,1617.7 L1654.4,1616.9 L1660.9,1616.1 L1667.4,1615.3 L1673.8,1614.5 L1680.3,1613.7 L1686.8,1612.9 L1693.2,1612.1 L1699.7,1611.3 L1706.2,1610.5 L1712.7,1609.8 L1719.1,1609.0 L1725.6,1608.2 L1732.1,1607.5 L1738.5,1606.7 L1745.0,1606.0 L1751.5,1605.3 L1758.0,1604.5 L1764.4,1603.8 L1770.9,1603.1 L1777.4,1602.4 L1783.8,1601.7 L1790.3,1601.0 L1796.8,1600.3 L1803.2,1599.6 L1809.7,1598.9 L1816.2,1598.2 L1822.7,1597.5 L1829.1,1596.9 L1835.6,1596.2 L1842.1,1595.5 L1848.5,1594.9 L1855.0,1594.2" stroke="#ff0000" stroke-width="6.6" fill="none" stroke-linejoin="round" stroke-linecap="round"/>
<circle cx="302.2" cy="2583.3" r="11.6" fill="#ff0000"/><circle cx="315.1" cy="2331.6" r="11.6" fill="#ff0000"/><circle cx="328.1" cy="2262.5" r="11.6" fill="#ff0000"/><circle cx="341.0" cy="2217.4" r="11.6" fill="#ff0000"/><circle cx="354.0" cy="2179.1" r="11.6" fill="#ff0000"/><circle cx="366.9" cy="2151.7" r="11.6" fill="#ff0000"/><circle cx="379.8" cy="2123.7" r="11.6" fill="#ff0000"/><circle cx="392.8" cy="2099.0" r="11.6" fill="#ff0000"/><circle cx="405.7" cy="2076.5" r="11.6" fill="#ff0000"/><circle cx="418.7" cy="2056.6" r="11.6" fill="#ff0000"/><circle cx="431.6" cy="2040.2" r="11.6" fill="#ff0000"/><circle cx="444.5" cy="2023.8" r="11.6" fill="#ff0000"/><circle cx="457.5" cy="2008.7" r="11.6" fill="#ff0000"/><circle cx="470.4" cy="1994.4" r="11.6" fill="#ff0000"/><circle cx="483.4" cy="1982.1" r="11.6" fill="#ff0000"/><circle cx="496.3" cy="1969.1" r="11.6" fill="#ff0000"/><circle cx="509.2" cy="1956.8" r="11.6" fill="#ff0000"/><circle cx="522.2" cy="1945.8" r="11.6" fill="#ff0000"/><circle cx="535.1" cy="1934.2" r="11.6" fill="#ff0000"/><circle cx="548.1" cy="1924.6" r="11.6" fill="#ff0000"/><circle cx="561.0" cy="1913.0" r="11.6" fill="#ff0000"/><circle cx="586.9" cy="1891.8" r="11.6" fill="#ff0000"/><circle cx="612.8" cy="1874.0" r="11.6" fill="#ff0000"/><circle cx="638.6" cy="1857.6" r="11.6" fill="#ff0000"/><circle cx="664.5" cy="1843.2" r="11.6" fill="#ff0000"/><circle cx="690.4" cy="1828.8" r="11.6" fill="#ff0000"/><circle cx="716.3" cy="1815.9" r="11.6" fill="#ff0000"/><circle cx="742.2" cy="1804.2" r="11.6" fill="#ff0000"/><circle cx="768.0" cy="1792.6" r="11.6" fill="#ff0000"/><circle cx="793.9" cy="1783.0" r="11.6" fill="#ff0000"/><circle cx="819.8" cy="1774.1" r="11.6" fill="#ff0000"/><circle cx="884.5" cy="1749.5" r="11.6" fill="#ff0000"/><circle cx="949.2" cy="1729.0" r="11.6" fill="#ff0000"/><circle cx="1013.9" cy="1711.9" r="11.6" fill="#ff0000"/><circle cx="1078.6" cy="1695.5" r="11.6" fill="#ff0000"/><circle cx="1143.3" cy="1681.8" r="11.6" fill="#ff0000"/><circle cx="1220.9" cy="1667.4" r="11.6" fill="#ff0000"/><circle cx="1337.4" cy="1646.9" r="11.6" fill="#ff0000"/><circle cx="1466.8" cy="1628.4" r="11.6" fill="#ff0000"/><circle cx="1596.2" cy="1612.0" r="11.6" fill="#ff0000"/><circle cx="1725.6" cy="1598.3" r="11.6" fill="#ff0000"/><circle cx="1855.0" cy="1588.1" r="11.6" fill="#ff0000"/>
<path d="M302.2,2583.3 L312.3,2408.9 L312.7,2408.0 L313.1,2407.2 L313.5,2406.4 L313.9,2405.6 L314.3,2404.8 L314.7,2404.0 L315.1,2403.2 L315.5,2402.4 L315.8,2401.6 L316.2,2400.9 L316.6,2400.1 L317.0,2399.4 L317.4,2398.7 L317.8,2397.9 L318.2,2397.3 L318.6,2396.6 L319.0,2395.9 L319.4,2395.3 L319.8,2394.6 L320.2,2394.0 L320.6,2393.4 L321.0,2392.8 L321.4,2392.2 L321.8,2391.6 L322.2,2391.1 L322.6,2390.5 L322.9,2390.0 L323.3,2389.4 L323.7,2388.9 L324.1,2388.3 L324.5,2387.8 L324.9,2387.3 L325.3,2386.7 L325.7,2386.2 L326.1,2385.7 L326.5,2385.1 L326.9,2384.6 L327.3,2384.1 L327.7,2383.5 L328.1,2383.0 L328.7,2382.1 L331.2,2378.5 L333.7,2374.9 L336.2,2371.7 L338.7,2368.6 L341.2,2365.6 L343.7,2362.7 L346.2,2359.8 L348.7,2357.0 L351.2,2354.1 L353.7,2351.3 L356.2,2348.5 L358.7,2345.7 L361.2,2343.0 L363.7,2340.2 L366.2,2337.4 L368.7,2334.6 L371.2,2331.7 L373.6,2328.9 L376.1,2326.0 L378.6,2323.1 L381.1,2320.2 L383.6,2317.3 L386.1,2314.4 L388.6,2311.4 L391.1,2308.5 L393.6,2305.5 L396.1,2302.4 L398.6,2299.3 L401.1,2296.0 L403.6,2292.5 L406.1,2289.0 L408.6,2285.4 L411.1,2281.9 L413.6,2278.5 L416.1,2275.2 L418.6,2272.2 L421.1,2269.3 L423.6,2266.6 L426.1,2263.9 L428.5,2261.4 L431.0,2258.9 L433.5,2256.4 L436.0,2254.0 L438.5,2251.7 L441.0,2249.3 L443.5,2247.0 L446.0,2244.7 L448.5,2242.4 L451.0,2240.2 L453.5,2237.9 L456.0,2235.7 L458.5,2233.6 L461.0,2231.4 L463.5,2229.4 L466.0,2227.5 L468.5,2225.6 L471.0,2223.8 L473.5,2222.1 L476.0,2220.5 L478.5,2218.9 L481.0,2217.4 L483.5,2215.9 L485.9,2214.5 L488.4,2213.0 L490.9,2211.7 L493.4,2210.3 L495.9,2208.9 L498.4,2207.6 L500.9,2206.2 L503.4,2204.9 L505.9,2203.5 L508.4,2202.2 L510.9,2200.8 L513.4,2199.4 L515.9,2198.0 L518.4,2196.6 L520.9,2195.2 L523.4,2193.8 L525.9,2192.4 L528.4,2191.0 L530.9,2189.7 L533.4,2188.3 L535.9,2186.9 L538.4,2185.5 L540.9,2184.1 L543.3,2182.7 L545.8,2181.3 L548.3,2179.9 L550.8,2178.5 L553.3,2177.2 L555.8,2175.8 L558.3,2174.4 L560.8,2173.0 L563.3,2171.6 L565.8,2170.2 L568.3,2168.8 L570.8,2167.4 L573.3,2166.0 L575.8,2164.6 L578.3,2163.2 L580.8,2161.8 L583.3,2160.4 L585.8,2159.0 L588.3,2157.7 L590.8,2156.3 L593.3,2154.9 L595.8,2153.5 L598.2,2152.1 L600.7,2150.7 L603.2,2149.3 L605.7,2148.0 L608.2,2146.6 L610.7,2145.3 L613.2,2143.9 L615.7,2142.6 L618.2,2141.2 L620.7,2139.9 L623.2,2138.6 L625.7,2137.3 L632.2,2134.0 L638.6,2130.7 L645.1,2127.4 L651.6,2124.1 L658.0,2120.9 L664.5,2117.7 L671.0,2114.6 L677.5,2111.6 L683.9,2108.7 L690.4,2105.9 L696.9,2103.1 L703.3,2100.4 L709.8,2097.7 L716.3,2095.1 L722.8,2092.6 L729.2,2090.0 L735.7,2087.5 L742.2,2085.1 L748.6,2082.6 L755.1,2080.2 L761.6,2077.9 L768.0,2075.5 L774.5,2073.2 L781.0,2070.9 L787.5,2068.6 L793.9,2066.3 L800.4,2064.1 L806.9,2061.8 L813.3,2059.5 L819.8,2057.3 L826.3,2055.1 L832.7,2052.9 L839.2,2050.7 L845.7,2048.5 L852.1,2046.3 L858.6,2044.2 L865.1,2042.1 L871.6,2040.0 L878.0,2037.9 L884.5,2035.8 L891.0,2033.7 L897.4,2031.7 L903.9,2029.6 L910.4,2027.6 L916.8,2025.6 L923.3,2023.5 L929.8,2021.5 L936.3,2019.5 L942.7,2017.6 L949.2,2015.6 L955.7,2013.6 L962.1,2011.6 L968.6,2009.6 L975.1,2007.7 L981.5,2005.7 L988.0,2003.7 L994.5,2001.8 L1001.0,1999.9 L1007.4,1997.9 L1013.9,1996.0 L1020.4,1994.1 L1026.8,1992.2 L1033.3,1990.4 L1039.8,1988.5 L1046.2,1986.7 L1052.7,1984.9 L1059.2,1983.1 L1065.7,1981.4 L1072.1,1979.6 L1078.6,1978.0 L1085.1,1976.3 L1091.5,1974.6 L1098.0,1973.0 L1104.5,1971.3 L1111.0,1969.7 L1117.4,1968.1 L1123.9,1966.5 L1130.4,1964.9 L1136.8,1963.3 L1143.3,1961.7 L1149.8,1960.1 L1156.2,1958.5 L1162.7,1957.0 L1169.2,1955.4 L1175.6,1953.9 L1182.1,1952.3 L1188.6,1950.8 L1195.1,1949.3 L1201.5,1947.8 L1208.0,1946.3 L1214.5,1944.9 L1220.9,1943.4 L1227.4,1942.0 L1233.9,1940.5 L1240.3,1939.1 L1246.8,1937.7 L1253.3,1936.3 L1259.8,1934.9 L1266.2,1933.5 L1272.7,1932.1 L1279.2,1930.8 L1285.6,1929.4 L1292.1,1928.1 L1298.6,1926.8 L1305.0,1925.5 L1311.5,1924.2 L1318.0,1922.9 L1324.5,1921.6 L1330.9,1920.4 L1337.4,1919.1 L1343.9,1917.9 L1350.3,1916.7 L1356.8,1915.5 L1363.3,1914.3 L1369.8,1913.1 L1376.2,1911.9 L1382.7,1910.8 L1389.2,1909.6 L1395.6,1908.5 L1402.1,1907.4 L1408.6,1906.2 L1415.0,1905.1 L1421.5,1904.0 L1428.0,1902.9 L1434.5,1901.8 L1440.9,1900.7 L1447.4,1899.7 L1453.9,1898.6 L1460.3,1897.6 L1466.8,1896.5 L1473.3,1895.5 L1479.7,1894.4 L1486.2,1893.4 L1492.7,1892.4 L1499.2,1891.4 L1505.6,1890.4 L1512.1,1889.3 L1518.6,1888.3 L1525.0,1887.4 L1531.5,1886.4 L1538.0,1885.4 L1544.4,1884.4 L1550.9,1883.4 L1557.4,1882.5 L1563.8,1881.5 L1570.3,1880.5 L1576.8,1879.6 L1583.3,1878.6 L1589.7,1877.7 L1596.2,1876.7 L1602.7,1875.8 L1609.1,1874.8 L1615.6,1873.9 L1622.1,1873.0 L1628.5,1872.0 L1635.0,1871.1 L1641.5,1870.2 L1648.0,1869.3 L1654.4,1868.4 L1660.9,1867.5 L1667.4,1866.6 L1673.8,1865.7 L1680.3,1864.8 L1686.8,1863.9 L1693.2,1863.0 L1699.7,1862.1 L1706.2,1861.3 L1712.7,1860.4 L1719.1,1859.5 L1725.6,1858.7 L1732.1,1857.8 L1738.5,1857.0 L1745.0,1856.1 L1751.5,1855.3 L1758.0,1854.4 L1764.4,1853.6 L1770.9,1852.8 L1777.4,1852.0 L1783.8,1851.1 L1790.3,1850.3 L1796.8,1849.5 L1803.2,1848.7 L1809.7,1847.9 L1816.2,1847.1 L1822.7,1846.4 L1829.1,1845.6 L1835.6,1844.8 L1842.1,1844.0 L1848.5,1843.3 L1855.0,1842.5" stroke="#00ff00" stroke-width="6.6" fill="none" stroke-linejoin="round" stroke-linecap="round"/>
<polygon points="288.7,2592.5 315.7,2592.5 302.2,2568.0" fill="#00ff00"/><polygon points="301.6,2479.3 328.6,2479.3 315.1,2454.8" fill="#00ff00"/><polygon points="314.6,2432.8 341.6,2432.8 328.1,2408.3" fill="#00ff00"/><polygon points="327.5,2399.9 354.5,2399.9 341.0,2375.4" fill="#00ff00"/><polygon points="340.5,2370.5 367.5,2370.5 354.0,2346.0" fill="#00ff00"/><polygon points="353.4,2350.7 380.4,2350.7 366.9,2326.2" fill="#00ff00"/><polygon points="366.3,2330.2 393.3,2330.2 379.8,2305.7" fill="#00ff00"/><polygon points="379.3,2312.4 406.3,2312.4 392.8,2287.9" fill="#00ff00"/><polygon points="392.2,2294.6 419.2,2294.6 405.7,2270.1" fill="#00ff00"/><polygon points="405.2,2281.6 432.2,2281.6 418.7,2257.1" fill="#00ff00"/><polygon points="418.1,2267.9 445.1,2267.9 431.6,2243.4" fill="#00ff00"/><polygon points="431.0,2255.6 458.0,2255.6 444.5,2231.1" fill="#00ff00"/><polygon points="444.0,2244.7 471.0,2244.7 457.5,2220.2" fill="#00ff00"/><polygon points="456.9,2233.0 483.9,2233.0 470.4,2208.5" fill="#00ff00"/><polygon points="469.9,2222.1 496.9,2222.1 483.4,2197.6" fill="#00ff00"/><polygon points="482.8,2211.8 509.8,2211.8 496.3,2187.3" fill="#00ff00"/><polygon points="495.7,2201.6 522.7,2201.6 509.2,2177.1" fill="#00ff00"/><polygon points="508.7,2192.0 535.7,2192.0 522.2,2167.5" fill="#00ff00"/><polygon points="521.6,2183.1 548.6,2183.1 535.1,2158.6" fill="#00ff00"/><polygon points="534.6,2176.3 561.6,2176.3 548.1,2151.8" fill="#00ff00"/><polygon points="547.5,2168.7 574.5,2168.7 561.0,2144.2" fill="#00ff00"/><polygon points="573.4,2152.3 600.4,2152.3 586.9,2127.8" fill="#00ff00"/><polygon points="599.3,2141.4 626.3,2141.4 612.8,2116.9" fill="#00ff00"/><polygon points="625.1,2125.6 652.1,2125.6 638.6,2101.1" fill="#00ff00"/><polygon points="651.0,2112.0 678.0,2112.0 664.5,2087.5" fill="#00ff00"/><polygon points="676.9,2099.7 703.9,2099.7 690.4,2075.2" fill="#00ff00"/><polygon points="702.8,2089.4 729.8,2089.4 716.3,2064.9" fill="#00ff00"/><polygon points="728.7,2078.4 755.7,2078.4 742.2,2053.9" fill="#00ff00"/><polygon points="754.5,2069.6 781.5,2069.6 768.0,2045.1" fill="#00ff00"/><polygon points="780.4,2059.3 807.4,2059.3 793.9,2034.8" fill="#00ff00"/><polygon points="806.3,2051.8 833.3,2051.8 819.8,2027.3" fill="#00ff00"/><polygon points="871.0,2029.2 898.0,2029.2 884.5,2004.7" fill="#00ff00"/><polygon points="935.7,2010.0 962.7,2010.0 949.2,1985.5" fill="#00ff00"/><polygon points="1000.4,1994.3 1027.4,1994.3 1013.9,1969.8" fill="#00ff00"/><polygon points="1065.1,1980.0 1092.1,1980.0 1078.6,1955.5" fill="#00ff00"/><polygon points="1129.8,1964.9 1156.8,1964.9 1143.3,1940.4" fill="#00ff00"/><polygon points="1194.5,1952.6 1221.5,1952.6 1208.0,1928.1" fill="#00ff00"/><polygon points="1323.9,1927.3 1350.9,1927.3 1337.4,1902.8" fill="#00ff00"/><polygon points="1453.3,1906.8 1480.3,1906.8 1466.8,1882.3" fill="#00ff00"/><polygon points="1582.7,1886.9 1609.7,1886.9 1596.2,1862.4" fill="#00ff00"/><polygon points="1725.0,1869.1 1752.0,1869.1 1738.5,1844.6" fill="#00ff00"/><polygon points="1841.5,1854.1 1868.5,1854.1 1855.0,1829.6" fill="#00ff00"/>
<path d="M276.2 1476.5 H1882.4 V2610.0" stroke="#000" stroke-width="3" fill="none"/>
<path d="M276.2 1473.5 V2613.3" stroke="#000" stroke-width="8" fill="none"/>
<path d="M272.2 2610.0 H1883.9" stroke="#000" stroke-width="6.3" fill="none"/>
<path d="M302.2,2610.0 V2634.5 M561.0,2610.0 V2634.5 M819.8,2610.0 V2634.5 M1078.6,2610.0 V2634.5 M1337.4,2610.0 V2634.5 M1596.2,2610.0 V2634.5 M1855.0,2610.0 V2634.5 M431.6,2610.0 V2623.7 M690.4,2610.0 V2623.7 M949.2,2610.0 V2623.7 M1208.0,2610.0 V2623.7 M1466.8,2610.0 V2623.7 M1725.6,2610.0 V2623.7 M276.2 2583.3 H253.2 M276.2 2309.7 H253.2 M276.2 2036.1 H253.2 M276.2 1762.5 H253.2 M276.2 1488.9 H253.2 M276.2 2446.5 H263.8 M276.2 2172.9 H263.8 M276.2 1899.3 H263.8 M276.2 1625.7 H263.8" stroke="#000" stroke-width="5.2" fill="none"/>
<g font-family="'Liberation Sans', Arial, sans-serif" font-size="57" fill="#000"><text x="241.5" y="2600.3" text-anchor="end">0</text><text x="241.5" y="2326.7" text-anchor="end">4</text><text x="241.5" y="2053.1" text-anchor="end">8</text><text x="241.5" y="1779.5" text-anchor="end">12</text><text x="241.5" y="1505.9" text-anchor="end">16</text><text x="302.2" y="2688.8" text-anchor="middle">0</text><text x="561.0" y="2688.8" text-anchor="middle">20</text><text x="819.8" y="2688.8" text-anchor="middle">40</text><text x="1078.6" y="2688.8" text-anchor="middle">60</text><text x="1337.4" y="2688.8" text-anchor="middle">80</text><text x="1596.2" y="2688.8" text-anchor="middle">100</text><text x="1855.0" y="2688.8" text-anchor="middle">120</text></g>
<text font-family="'Liberation Sans', Arial, sans-serif" font-size="57" x="1078.3" y="2774.0" text-anchor="middle" letter-spacing="0.5">Time (min)</text>
<text font-family="'Liberation Sans', Arial, sans-serif" font-size="57" transform="translate(149.3 2085.2) rotate(-90)" text-anchor="middle">Desorbed Volume (m<tspan dy="-29" font-size="37">3</tspan><tspan dy="29">/g, daf)</tspan></text>
<text font-family="'Liberation Serif', 'Times New Roman', serif" font-size="84" x="34" y="1501.5">(b)</text>
<rect x="1342" y="2369.9" width="538.9" height="237.1" fill="#fff"/>
<rect x="1437.5" y="2410.2" width="23" height="23" fill="#000"/>
<circle cx="1449.0" cy="2491.7" r="12.5" fill="#ff0000"/>
<polygon points="1434.0,2571.1 1464.0,2571.1 1449.0,2545.1" fill="#00ff00"/>
<g font-family="'Liberation Sans', Arial, sans-serif" font-size="57"><text x="1530" y="2441.1">0.2-0.25 mm</text><text x="1530" y="2511.0">0.5-1.0 mm</text><text x="1530" y="2579.9">1.0-3.0 mm</text></g>
</svg>
</body></html>
